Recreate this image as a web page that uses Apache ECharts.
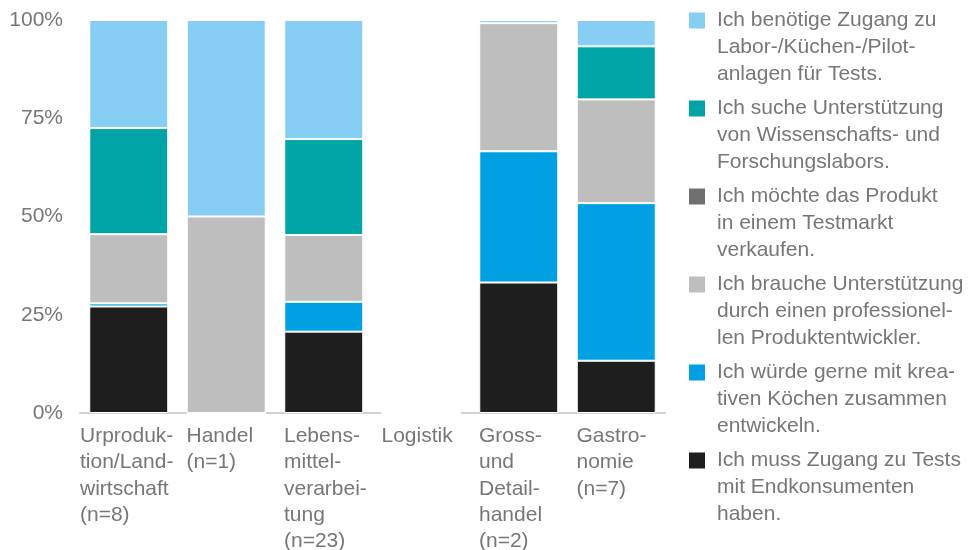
<!DOCTYPE html>
<html>
<head>
<meta charset="utf-8">
<script src="https://cdn.jsdelivr.net/npm/echarts@6/dist/echarts.min.js"></script>
<style>html,body{margin:0;padding:0;background:#fff}#c{width:971px;height:550px}</style>
</head>
<body>
<div id="c"></div>
<script>
const categories = ['Urproduk-\ntion/Land-\nwirtschaft\n(n=8)', 'Handel\n(n=1)', 'Lebens-\nmittel-\nverarbei-\ntung\n(n=23)', 'Logistik', 'Gross-\nund\nDetail-\nhandel\n(n=2)', 'Gastro-\nnomie\n(n=7)'];
const yTicks = [0, 25, 50, 75, 100];

const nameLabor = 'Ich benötige Zugang zu\nLabor-/Küchen-/Pilot-\nanlagen für Tests.';
const nameWiss = 'Ich suche Unterstützung\nvon Wissenschafts- und\nForschungslabors.';
const nameMarkt = 'Ich möchte das Produkt\nin einem Testmarkt\nverkaufen.';
const nameEntw = 'Ich brauche Unterstützung\ndurch einen professionel-\nlen Produktentwickler.';
const nameKoch = 'Ich würde gerne mit krea-\ntiven Köchen zusammen\nentwickeln.';
const nameTests = 'Ich muss Zugang zu Tests\nmit Endkonsumenten\nhaben.';

// values in percent, bottom to top
const testsValues = [27.1, 0, 20.7, 0, 33.2, 13.3];
const kochValues  = [0.8, 0, 7.6, 0, 33.4, 40.1];
const entwValues  = [17.6, 50, 17.0, 0, 32.6, 26.4];
const marktValues = [0, 0, 0, 0, 0, 0];
const wissValues  = [27.0, 0, 24.4, 0, 0, 13.5];
const laborValues = [27.5, 50, 30.3, 0, 0.8, 6.7];

const colors = {
  labor: '#87cef5', wiss: '#00a4a6', markt: '#707070',
  entw: '#bebebe', koch: '#00a0e3', tests: '#1e1e1e'
};

const font = 'Liberation Sans, Arial, Helvetica, sans-serif';
const textColor = '#777777';
const fs = 21;

function bar(name, data, color) {
  return {
    name, type: 'bar', stack: 'total', data,
    barCategoryGap: '19%',
    itemStyle: { color, borderColor: '#ffffff', borderWidth: 1 },
    emphasis: { disabled: true }
  };
}

const chart = echarts.init(document.getElementById('c'));
chart.setOption({
  animation: false,
  grid: { left: 80, right: 306, top: 20, bottom: 137, outerBoundsMode: 'none', containLabel: false },
  legend: {
    orient: 'vertical', left: 687, top: -47, padding: 0,
    itemWidth: 18, itemHeight: 18, itemGap: -47,
    icon: 'rect',
    data: [nameLabor, nameWiss, nameMarkt, nameEntw, nameKoch, nameTests],
    formatter: n => '\n\n' + n,
    textStyle: { color: textColor, fontSize: fs, fontFamily: font, lineHeight: 27, padding: [0, 0, 0, 6] },
    selectedMode: false
  },
  xAxis: [{
    type: 'category', data: categories,
    axisLine: { lineStyle: { color: '#d2d2d2', width: 2 } },
    axisTick: { show: false },
    axisLabel: { show: false }
  }, {
    type: 'category', data: categories.concat(['']), boundaryGap: false,
    position: 'bottom',
    axisLine: { show: false }, axisTick: { show: false },
    axisLabel: {
      interval: 0, align: 'left', verticalAlign: 'top', margin: 10,
      color: textColor, fontSize: fs, fontFamily: font, lineHeight: 26.3,
      formatter: (v, i) => v === '' ? '' : v.split('\n').map(l => '{' + (i === 0 ? 'a' : 'b') + '|' + l + '}').join('\n'),
      rich: {
        a: { color: textColor, fontSize: fs, fontFamily: font, lineHeight: 26.3, padding: [0, 0, 0, 0] },
        b: { color: textColor, fontSize: fs, fontFamily: font, lineHeight: 26.3, padding: [0, 0, 0, 9] }
      }
    }
  }],
  yAxis: {
    type: 'value', min: yTicks[0], max: yTicks[yTicks.length - 1], interval: 25,
    axisLine: { show: false }, axisTick: { show: false }, splitLine: { show: false },
    axisLabel: { formatter: '{value}%', color: textColor, fontSize: fs, fontFamily: font, margin: 17 }
  },
  series: [
    bar(nameTests, testsValues, colors.tests),
    bar(nameKoch, kochValues, colors.koch),
    bar(nameEntw, entwValues, colors.entw),
    bar(nameMarkt, marktValues, colors.markt),
    bar(nameWiss, wissValues, colors.wiss),
    bar(nameLabor, laborValues, colors.labor)
  ]
});
</script>
</body>
</html>
